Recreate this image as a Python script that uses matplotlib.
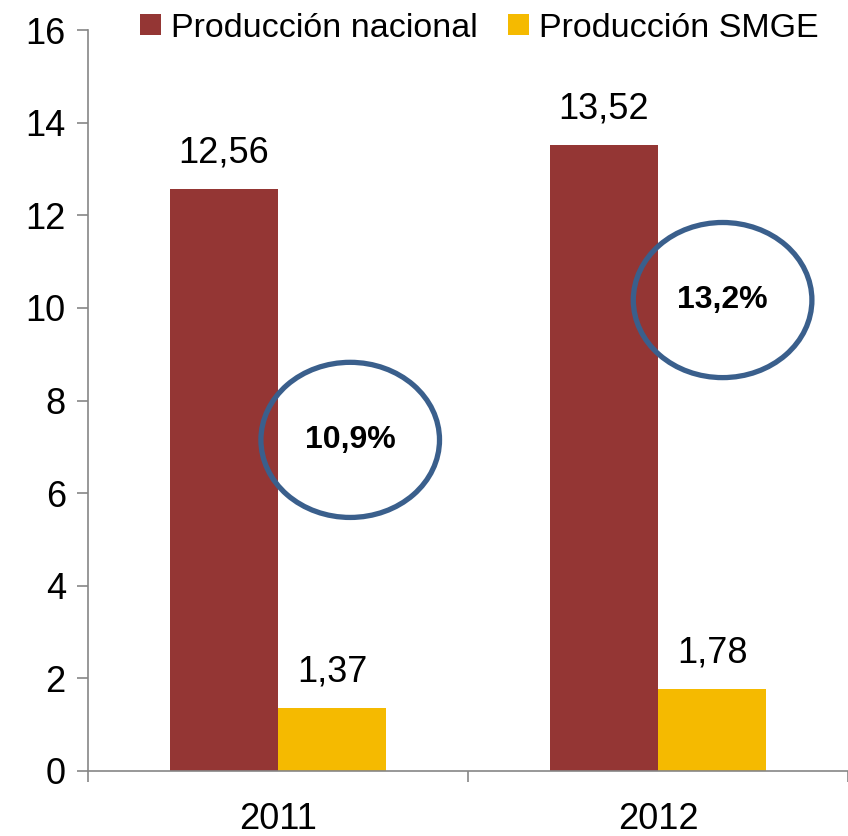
import matplotlib.pyplot as plt
from matplotlib.patches import Ellipse
import numpy as np

years = ['2011', '2012']
nacional = [12.56, 13.52]
smge = [1.37, 1.78]
shares = ['10,9%', '13,2%']
share_pos = [(0.19, 7.15), (1.17, 10.17)]

plt.rcParams['font.family'] = ['Liberation Sans', 'DejaVu Sans']

fig = plt.figure(figsize=(8.48, 8.36), dpi=100)
ax = fig.add_axes([0.1038, 0.0778, 0.8962, 0.8862])

x = np.arange(len(years))
w = 0.285
b1 = ax.bar(x - w / 2, nacional, w, color='#943634', label='Producción nacional')
b2 = ax.bar(x + w / 2, smge, w, color='#F5BA00', label='Producción SMGE')

for bars, vals in [(b1, nacional), (b2, smge)]:
    for r, v in zip(bars, vals):
        ax.text(r.get_x() + r.get_width() / 2, v + 0.4, f'{v:.2f}'.replace('.', ','),
                ha='center', va='bottom', fontsize=26)

for (cx, cy), s in zip(share_pos, shares):
    ax.add_patch(Ellipse((cx, cy), 0.47, 3.35, fill=False, edgecolor='#3A5F8C', lw=3.8))
    ax.text(cx, cy, s, ha='center', va='center', fontsize=23, fontweight='bold')

ax.set_xlim(-0.5, 1.5)
ax.set_ylim(0, 16)
ax.set_yticks(range(0, 17, 2))
ax.set_xticks(x)
ax.set_xticklabels(years)
ax.set_xticks([-0.5, 0.5, 1.5], minor=True)
ax.tick_params(axis='x', which='major', length=0, labelsize=26, pad=22)
ax.tick_params(axis='x', which='minor', length=8, color='#868686', width=1.2)
ax.tick_params(axis='y', length=8, color='#868686', width=1.2, labelsize=26, pad=8)
for sp in ['top', 'right']:
    ax.spines[sp].set_visible(False)
for sp in ['left', 'bottom']:
    ax.spines[sp].set_color('#868686')
    ax.spines[sp].set_linewidth(1.2)

ax.legend(loc='upper center', bbox_to_anchor=(0.515, 1.065), ncol=2, frameon=False,
          fontsize=24.5, handlelength=0.6, handleheight=0.6, handletextpad=0.3,
          columnspacing=0.9)

fig.savefig('out.png', dpi=100)
